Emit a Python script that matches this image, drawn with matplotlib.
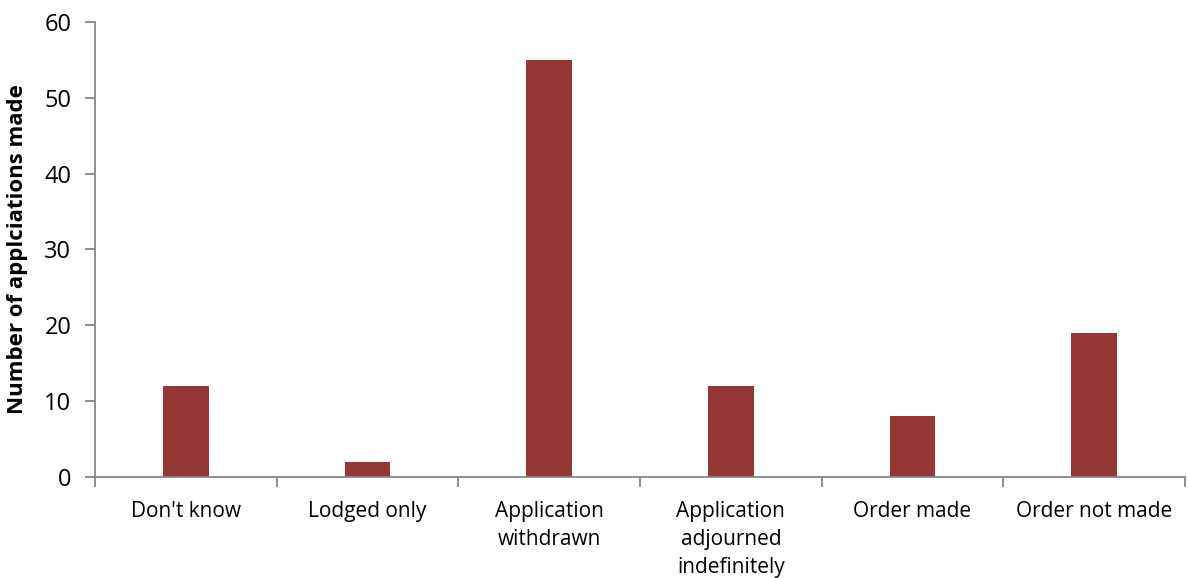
import matplotlib.pyplot as plt
import numpy as np

categories = ["Don't know", "Lodged only", "Application\nwithdrawn",
              "Application\nadjourned\nindefinitely", "Order made", "Order not made"]
values = [12, 2, 55, 12, 8, 19]
yticks = [0, 10, 20, 30, 40, 50, 60]

plt.rcParams['font.family'] = ['Open Sans', 'DejaVu Sans']

fig = plt.figure(figsize=(11.88, 5.78), dpi=100)
ax = fig.add_axes([0.080, 0.1747, 0.9175, 0.7873])

x = np.arange(len(categories))
ax.bar(x, values, width=0.25, color='#953735', zorder=2)

ax.set_xlim(-0.5, len(categories) - 0.5)
ax.set_ylim(0, 60)
ax.set_yticks(yticks)
ax.tick_params(axis='y', labelsize=17, length=7, width=1.3, color='#868686', pad=10)

# category ticks sit between the bars
ax.set_xticks(np.arange(-0.5, len(categories)), minor=False)
ax.set_xticklabels([])
ax.set_xticks(x, minor=True)
ax.set_xticklabels(categories, minor=True, fontsize=15, linespacing=1.45, va='top')
ax.tick_params(axis='x', which='minor', length=0, pad=17)
ax.tick_params(axis='x', which='major', length=7, width=1.3, color='#868686')

for side in ['top', 'right']:
    ax.spines[side].set_visible(False)
for side in ['left', 'bottom']:
    ax.spines[side].set_color('#868686')
    ax.spines[side].set_linewidth(1.3)

ax.set_ylabel('Number of applciations made', fontsize=16, fontweight='bold', labelpad=12)

plt.savefig('out.png', dpi=100)
